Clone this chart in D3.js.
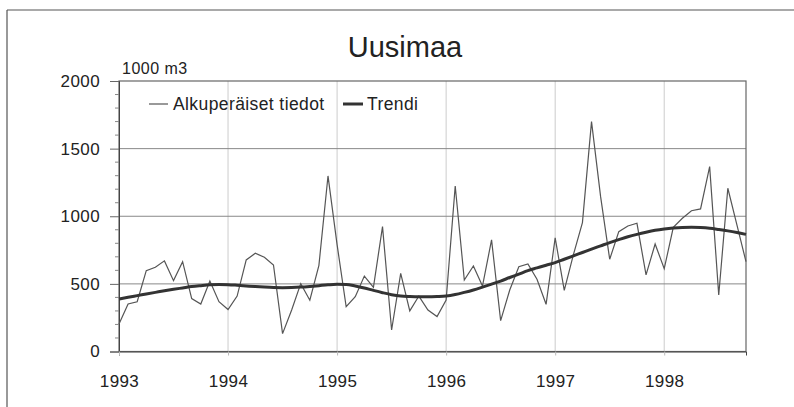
<!DOCTYPE html>
<html>
<head>
<meta charset="utf-8">
<script src="https://d3js.org/d3.v7.min.js"></script>
<style>
  body { margin: 0; background: #fff; }
  text { font-family: "Liberation Sans", Arial, sans-serif; fill: #222; }
</style>
</head>
<body>
<svg width="794" height="407"></svg>
<script>
// monthly values, Jan 1993 - Oct 1998
var original = [
  203, 351, 368, 598, 623, 670, 524, 664, 391, 351, 521, 368,
  310, 410, 677, 726, 697, 640, 132, 307, 502, 379, 637, 1298,
  790, 331, 405, 558, 475, 923, 159, 578, 300, 410, 307, 258,
  381, 1224, 529, 632, 484, 825, 228, 455, 627, 647, 534, 349,
  840, 452, 714, 953, 1700, 1145, 682, 886, 928, 948, 566, 795,
  612, 918, 985, 1041, 1054, 1367, 418, 1207, 936, 664
];
var trend = [
  388, 401, 413, 425, 437, 449, 460, 470, 480, 487, 493, 495,
  494, 490, 485, 480, 476, 473, 472, 473, 476, 481, 487, 493,
  497, 496, 485, 470, 452, 435, 420, 410, 406, 404, 404, 406,
  410, 421, 437, 455, 476, 498, 521, 547, 572, 598, 618, 638,
  657, 682, 707, 732, 757, 781, 805, 827, 848, 866, 882, 896,
  906, 913, 917, 918, 916, 911, 902, 892, 880, 866
];
var years = [1993, 1994, 1995, 1996, 1997, 1998];
var yTicks = [0, 500, 1000, 1500, 2000];
var seriesNames = ["Alkuperäiset tiedot", "Trendi"];

var svg = d3.select("svg");
var plotL = 119, plotR = 746, plotT = 81, plotB = 351.5;

var x = d3.scaleLinear().domain([0, 69]).range([plotL, plotR]);
var y = d3.scaleLinear().domain([0, 2000]).range([plotB, plotT]);

// outer frame (scan shows top + left edges)
svg.append("line").attr("x1", 7).attr("x2", 794).attr("y1", 10).attr("y2", 10)
   .attr("stroke", "#555").attr("stroke-width", 1.2);
svg.append("line").attr("x1", 7).attr("x2", 7).attr("y1", 10).attr("y2", 407)
   .attr("stroke", "#555").attr("stroke-width", 1.2);

// vertical year gridlines
svg.append("g").selectAll("line").data(years.slice(1)).enter().append("line")
   .attr("x1", function(d) { return x((d - 1993) * 12); })
   .attr("x2", function(d) { return x((d - 1993) * 12); })
   .attr("y1", plotT).attr("y2", plotB)
   .attr("stroke", "#ccc").attr("stroke-width", 1);

// horizontal gridlines
svg.append("g").selectAll("line").data(yTicks.slice(1, 4)).enter().append("line")
   .attr("x1", plotL).attr("x2", plotR)
   .attr("y1", function(d) { return y(d); })
   .attr("y2", function(d) { return y(d); })
   .attr("stroke", "#888").attr("stroke-width", 1);

// plot frame
svg.append("rect").attr("x", plotL).attr("y", plotT)
   .attr("width", plotR - plotL).attr("height", plotB - plotT)
   .attr("fill", "none").attr("stroke", "#666").attr("stroke-width", 1.2);

// y axis: major ticks with labels, minor ticks every 100
var yAxis = d3.axisLeft(y).tickValues(yTicks).tickFormat(d3.format("d"))
   .tickSize(9).tickPadding(10);
var gy = svg.append("g").attr("transform", "translate(" + plotL + ",0)").call(yAxis);
gy.select(".domain").attr("stroke", "#444");
gy.selectAll(".tick line").attr("stroke", "#666");
gy.selectAll("text").style("font-size", "17px").style("letter-spacing", "0.4px").attr("fill", "#222");

var minor = d3.range(100, 2000, 100).filter(function(d) { return d % 500 !== 0; });
svg.append("g").selectAll("line").data(minor).enter().append("line")
   .attr("x1", plotL - 4).attr("x2", plotL)
   .attr("y1", function(d) { return y(d); })
   .attr("y2", function(d) { return y(d); })
   .attr("stroke", "#888");

// x axis
var xAxis = d3.axisBottom(x)
   .tickValues(years.map(function(d) { return (d - 1993) * 12; }))
   .tickFormat(function(d) { return 1993 + d / 12; })
   .tickSize(4).tickPadding(19);
var gx = svg.append("g").attr("transform", "translate(0," + plotB + ")").call(xAxis);
gx.select(".domain").attr("stroke", "#444");
gx.selectAll(".tick line").attr("stroke", "#bbb");
gx.selectAll("text").style("font-size", "17px").style("letter-spacing", "0.4px").attr("fill", "#222");

// series
var line = d3.line().x(function(d, i) { return x(i); }).y(function(d) { return y(d); });
svg.append("path").datum(original).attr("d", line)
   .attr("fill", "none").attr("stroke", "#555").attr("stroke-width", 1.2);
svg.append("path").datum(trend).attr("d", d3.line().curve(d3.curveMonotoneX)
     .x(function(d, i) { return x(i); }).y(function(d) { return y(d); }))
   .attr("fill", "none").attr("stroke", "#333").attr("stroke-width", 3);

// titles
svg.append("text").attr("x", 405).attr("y", 57).attr("text-anchor", "middle")
   .style("font-size", "29px").text("Uusimaa");
svg.append("text").attr("x", 122).attr("y", 74)
   .style("font-size", "16px").style("letter-spacing", "0.5px").text("1000 m3");

// legend
var lg = svg.append("g");
lg.append("line").attr("x1", 149).attr("x2", 168).attr("y1", 104).attr("y2", 104)
   .attr("stroke", "#555").attr("stroke-width", 1.2);
lg.append("text").attr("x", 173).attr("y", 110).style("font-size", "17.5px")
   .style("letter-spacing", "0.4px").text(seriesNames[0]);
lg.append("line").attr("x1", 343).attr("x2", 363).attr("y1", 104).attr("y2", 104)
   .attr("stroke", "#333").attr("stroke-width", 3);
lg.append("text").attr("x", 367).attr("y", 110).style("font-size", "17.5px")
   .style("letter-spacing", "0.4px").text(seriesNames[1]);
</script>
</body>
</html>
